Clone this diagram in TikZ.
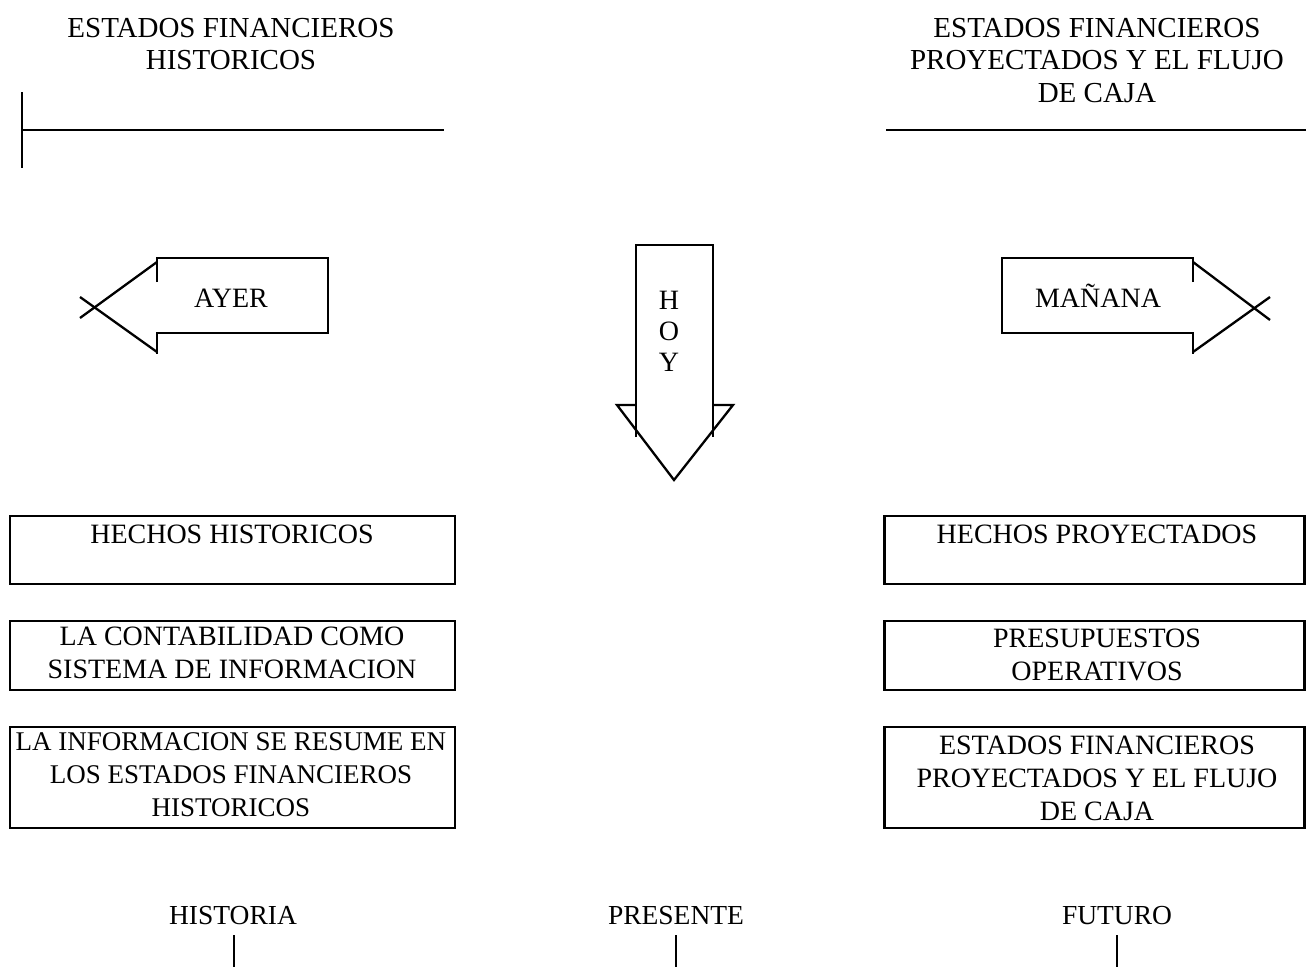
\documentclass[tikz,border=0pt]{standalone}
\usepackage{fontspec}
\setmainfont{Liberation Serif}
\begin{document}
\begin{tikzpicture}[x=1pt,y=-1pt,
  txt/.style={font=\fontsize{28}{33}\selectfont, align=center, inner sep=0pt},
  ttl/.style={font=\fontsize{29}{32.5}\selectfont, align=center, inner sep=0pt},
  box/.style={draw, line width=2.6pt, inner sep=0pt},
  shp/.style={line width=2.3pt, line join=miter},
  rule/.style={line width=2.6pt},
  tickline/.style={line width=1.6pt}]
\useasboundingbox (0,0) rectangle (1306,967);

% titles
\node[ttl] (tl) at (231,44) {ESTADOS FINANCIEROS\\HISTORICOS};
\node[ttl] (tr) at (1097,60.5) {ESTADOS FINANCIEROS\\PROYECTADOS Y EL FLUJO\\DE CAJA};

% top rules
\draw[rule] (22,92) -- (22,168);
\draw[rule] (22,130) -- (444,130);
\draw[rule] (886,130) -- (1306,130);

% AYER arrow
\draw[shp] (157,282) -- (157,258) -- (328,258) -- (328,333) -- (157,333) -- (157,354);
\draw[shp] (157,262) -- (80,318);
\draw[shp] (157,352) -- (80,297);
\node[txt, anchor=base] (ayer) at (231,307) {AYER};

% MANANA arrow
\draw[shp] (1193,282) -- (1193,258) -- (1002,258) -- (1002,333) -- (1193,333) -- (1193,354);
\draw[shp] (1193,262) -- (1270,320);
\draw[shp] (1193,352) -- (1270,297);
\node[txt, anchor=base] (manana) at (1098,307) {MAÑANA};

% HOY arrow
\draw[shp] (636,437) -- (636,245) -- (713,245) -- (713,437);
\draw[shp] (636,405) -- (617,405) -- (674,480) -- (733,405) -- (713,405);
\node[font=\fontsize{28}{31}\selectfont, align=center, inner sep=0pt] (hoy) at (669,331) {H\\O\\Y};

% left boxes
\node[box, minimum width=445, minimum height=68] (lb1) at (232.5,550) {};
\node[box, minimum width=445, minimum height=69] (lb2) at (232.5,655.5) {};
\node[box, minimum width=445, minimum height=101] (lb3) at (232.5,777.5) {};
\node[txt, anchor=base] (lt1) at (232,543) {HECHOS HISTORICOS};
\node[txt] (lt2) at (232,652.5) {LA CONTABILIDAD COMO\\SISTEMA DE INFORMACION};
\node[txt, font=\fontsize{27}{33}\selectfont] (lt3) at (231,775) {LA INFORMACION SE RESUME EN\\LOS ESTADOS FINANCIEROS\\HISTORICOS};

% right boxes
\node[box, minimum width=420, minimum height=68] (rb1) at (1094.5,550) {};
\node[box, minimum width=420, minimum height=69] (rb2) at (1094.5,655.5) {};
\node[box, minimum width=420, minimum height=101] (rb3) at (1094.5,777.5) {};
\node[txt, anchor=base] (rt1) at (1097,543) {HECHOS PROYECTADOS};
\node[txt] (rt2) at (1097,655) {PRESUPUESTOS\\OPERATIVOS};
\node[txt] (rt3) at (1097,778) {ESTADOS FINANCIEROS\\PROYECTADOS Y EL FLUJO\\DE CAJA};

% bottom labels
\node[txt, font=\fontsize{27.5}{33}\selectfont, anchor=base] (hist) at (233,924) {HISTORIA};
\node[txt, font=\fontsize{27.5}{33}\selectfont, anchor=base] (pres) at (676,924) {PRESENTE};
\node[txt, font=\fontsize{27.5}{33}\selectfont, anchor=base] (fut) at (1117,924) {FUTURO};
\coordinate (histA) at (234,935); \coordinate (histB) at (234,967);
\coordinate (presA) at (676,935); \coordinate (presB) at (676,967);
\coordinate (futA) at (1117,935); \coordinate (futB) at (1117,967);
\draw[tickline] (histA) -- (histB);
\draw[tickline] (presA) -- (presB);
\draw[tickline] (futA) -- (futB);
\end{tikzpicture}
\end{document}
